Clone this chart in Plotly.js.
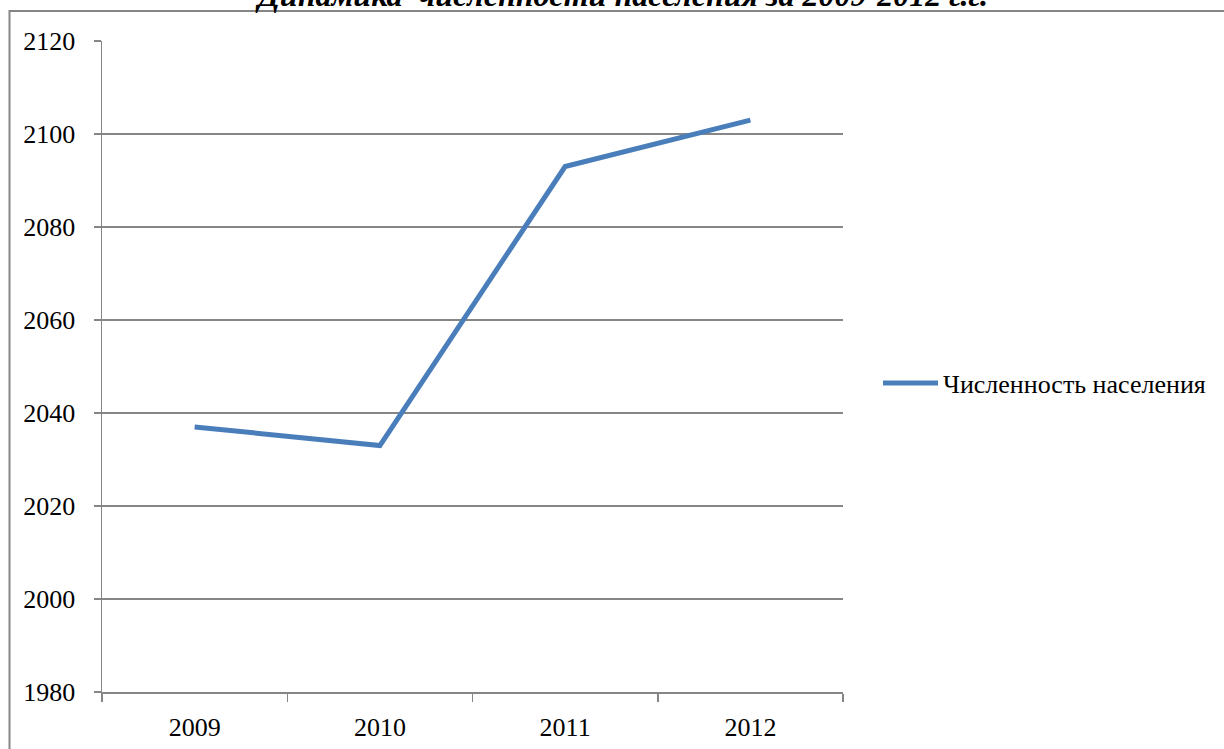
<!DOCTYPE html>
<html>
<head>
<meta charset="utf-8">
<script src="https://cdn.plot.ly/plotly-3.0.1.min.js"></script>
<style>html,body{margin:0;padding:0;background:#fff;}#chart{width:1224px;height:749px;}</style>
</head>
<body>
<div id="chart"></div>
<script>
var years = ['2009', '2010', '2011', '2012'];
var population = [2037, 2033, 2093, 2103];
var seriesName = 'Численность населения';
var chartTitle = 'Динамика  численности населения за 2009-2012 г.г.';

var W = 1224, H = 749;
var L = 102, R = 843, T = 41, B = 692;
function px(x) { return (x - L) / (R - L); }
function py(y) { return (B - y) / (B - T); }

var grey = '#868686';
var serif = 'Liberation Serif';

var trace = {
  x: years,
  y: population,
  type: 'scatter',
  mode: 'lines',
  name: seriesName,
  line: {color: '#4a7ebb', width: 5}
};

var layout = {
  width: W, height: H,
  margin: {l: L, r: W - R, t: T, b: H - B, pad: 0},
  paper_bgcolor: '#ffffff',
  plot_bgcolor: '#ffffff',
  font: {family: serif, color: '#000'},
  showlegend: true,
  legend: {
    x: px(878), xanchor: 'left',
    y: py(383), yanchor: 'middle',
    font: {family: serif, size: 26, color: '#000'},
    itemwidth: 55,
    bgcolor: 'rgba(0,0,0,0)'
  },
  xaxis: {
    type: 'category',
    range: [-0.5, 3.5],
    tickson: 'boundaries',
    ticks: 'outside', ticklen: 8, tickcolor: grey, tickwidth: 1.5,
    showline: true, linecolor: grey, linewidth: 1.5,
    showgrid: false, zeroline: false,
    tickfont: {family: serif, size: 26, color: '#000'},
    ticklabelstandoff: 11
  },
  yaxis: {
    range: [1980, 2120],
    dtick: 20,
    ticks: 'outside', ticklen: 7, tickcolor: grey, tickwidth: 1.5,
    showline: true, linecolor: grey, linewidth: 1.5,
    showgrid: true, gridcolor: grey, gridwidth: 1.3,
    zeroline: false,
    tickfont: {family: serif, size: 26, color: '#000'},
    ticklabelstandoff: 13
  },
  shapes: [{
    type: 'rect', xref: 'paper', yref: 'paper',
    x0: px(9.5), x1: px(1240), y0: py(770), y1: py(11),
    line: {color: grey, width: 2},
    fillcolor: 'rgba(0,0,0,0)',
    layer: 'below'
  }],
  annotations: [{
    text: '<b><i>' + chartTitle + '</i></b>',
    xref: 'paper', yref: 'paper',
    x: px(621), y: py(-5),
    xanchor: 'center', yanchor: 'middle',
    showarrow: false,
    font: {family: serif, size: 32, color: '#000'}
  }]
};

Plotly.newPlot('chart', [trace], layout, {displayModeBar: false, staticPlot: true});
</script>
</body>
</html>
